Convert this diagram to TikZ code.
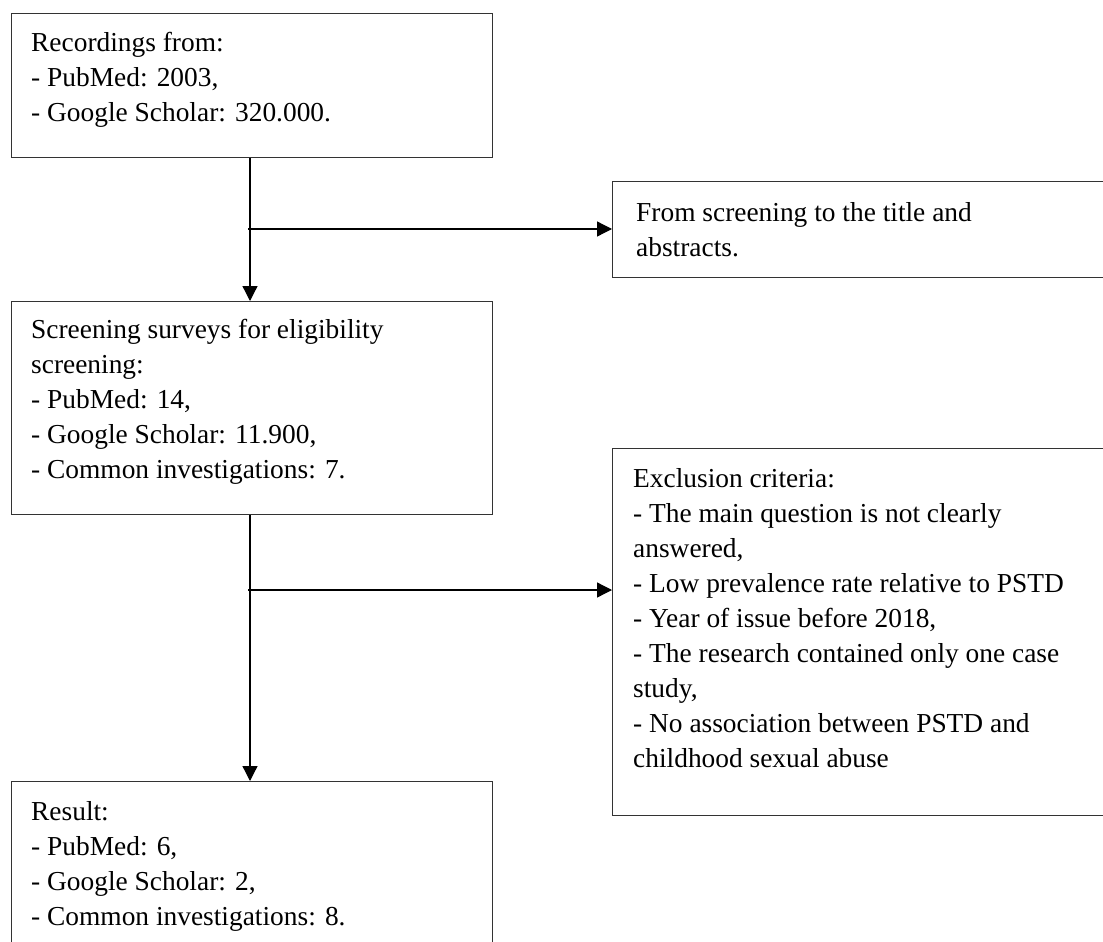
\documentclass[tikz,border=0pt]{standalone}
\usepackage{fontspec}
\setmainfont{Liberation Serif}
\usetikzlibrary{arrows.meta}
\tikzset{
  boxnode/.style={draw=black!80, line width=1.4pt, rectangle, inner sep=0pt, anchor=north west},
  txt/.style={anchor=base west, inner sep=0pt, align=left, font=\fontsize{27.4}{35}\selectfont},
  conn/.style={draw=black, line width=1.3pt},
  arr/.style={conn, -{Triangle[length=15pt,width=15pt]}}
}
\begin{document}
\begin{tikzpicture}[x=1pt,y=-1pt]
\useasboundingbox (0,0) rectangle (1103,942);
\clip (0,0) rectangle (1103,942);
\fill[white] (0,0) rectangle (1103,942);
% boxes
\node[boxnode, minimum width=481pt, minimum height=144pt] (b1) at (11,13) {};
\node[boxnode, minimum width=500pt, minimum height=96pt] (b2) at (612,181) {};
\node[boxnode, minimum width=481pt, minimum height=213pt] (b3) at (11,301) {};
\node[boxnode, minimum width=500pt, minimum height=367pt] (b5) at (612,448) {};
\node[boxnode, minimum width=481pt, minimum height=200pt] (b4) at (11,781) {};
% texts
\node[txt] (t1) at (31,52) {\parbox[t]{460pt}{Recordings from:\\- PubMed: 2003,\\- Google Scholar: 320.000.}};
\node[txt] (t2) at (636,221) {\parbox[t]{460pt}{From screening to the title and\\abstracts.}};
\node[txt] (t3) at (31,338) {\parbox[t]{460pt}{Screening surveys for eligibility\\screening:\\- PubMed: 14,\\- Google Scholar: 11.900,\\- Common investigations: 7.}};
\node[txt] (t5) at (633,487) {\parbox[t]{460pt}{Exclusion criteria:\\- The main question is not clearly\\answered,\\- Low prevalence rate relative to PSTD\\- Year of issue before 2018,\\- The research contained only one case\\study,\\- No association between PSTD and\\childhood sexual abuse}};
\node[txt] (t4) at (31,820) {\parbox[t]{460pt}{Result:\\- PubMed: 6,\\- Google Scholar: 2,\\- Common investigations: 8.}};
% connectors
\coordinate (j1) at (248,229);
\coordinate (j2) at (248,590);
\draw[arr] (b1.south -| 250,0) -- (b3.north -| 250,0);
\draw[arr] (j1) -- (j1 -| b2.west);
\draw[arr] (b3.south -| 250,0) -- (b4.north -| 250,0);
\draw[arr] (j2) -- (j2 -| b5.west);
\end{tikzpicture}
\end{document}
